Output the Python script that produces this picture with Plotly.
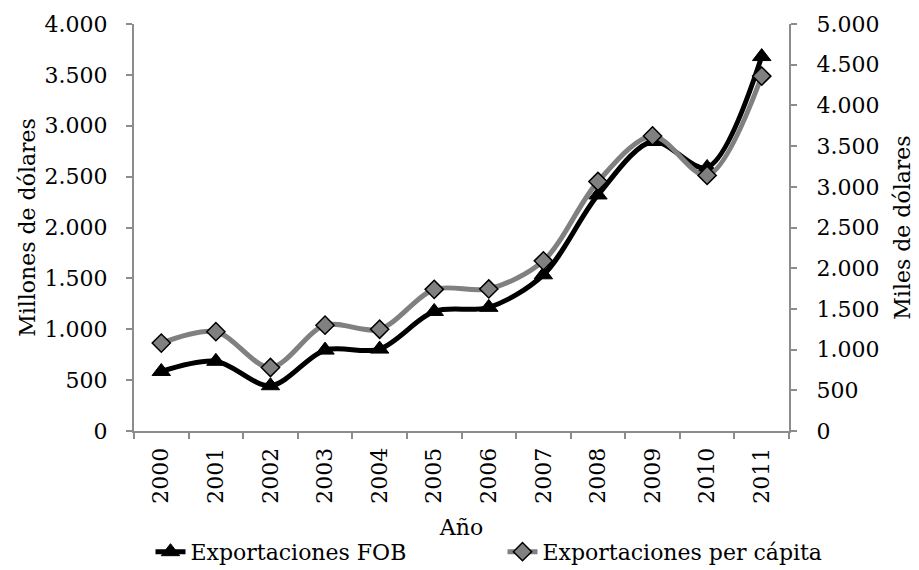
import plotly.graph_objects as go

years = ["2000", "2001", "2002", "2003", "2004", "2005", "2006", "2007", "2008", "2009", "2010", "2011"]
fob = [585, 685, 445, 795, 805, 1175, 1215, 1535, 2320, 2845, 2590, 3680]
per_capita = [1080, 1220, 780, 1300, 1250, 1740, 1745, 2090, 3065, 3625, 3140, 4360]

font = "DejaVu Serif"
fs = 22
axis_color = "#8c8c8c"

fig = go.Figure()
fig.add_trace(go.Scatter(
    x=years, y=fob, name="Exportaciones FOB", mode="lines+markers",
    line=dict(color="black", width=5, shape="spline", smoothing=0.9),
    marker=dict(symbol="triangle-up", size=16, color="black", line=dict(color="black", width=1)),
))
fig.add_trace(go.Scatter(
    x=years, y=per_capita, name="Exportaciones per cápita", mode="lines+markers", yaxis="y2",
    line=dict(color="#808080", width=5, shape="spline", smoothing=0.9),
    marker=dict(symbol="diamond", size=14, color="#808080", line=dict(color="black", width=1.5)),
))

# the page body adds an 8px offset, so the figure is 911x562 and left/top margins shrink by 8
fig.update_layout(
    width=911, height=562,
    margin=dict(l=126, r=130, t=16, b=139, autoexpand=False),
    paper_bgcolor="white", plot_bgcolor="white",
    separators=",.",
    font=dict(family=font, size=fs, color="black"),
    showlegend=True,
    legend=dict(orientation="h", x=1.1, xanchor="right",
                y=-0.297, yanchor="middle",
                font=dict(family=font, size=fs), entrywidth=307, tracegroupgap=0),
    xaxis=dict(
        type="category", range=[-0.5, 11.5], tickson="boundaries", automargin=False,
        showline=True, linecolor=axis_color, linewidth=2,
        ticks="outside", ticklen=6, tickcolor=axis_color, tickwidth=2,
        tickangle=-90, tickfont=dict(family=font, size=fs), ticklabelstandoff=6,
        showgrid=False, zeroline=False,
        title=dict(text="Año", font=dict(family=font, size=fs), standoff=17),
    ),
    yaxis=dict(
        range=[0, 4000], dtick=500, tickformat=",d", automargin=False,
        showline=True, linecolor=axis_color, linewidth=2,
        ticks="outside", ticklen=6, tickcolor=axis_color, tickwidth=2,
        showgrid=False, zeroline=False, ticklabelstandoff=14,
        tickfont=dict(family=font, size=fs),
        title=dict(text="Millones de dólares", font=dict(family=font, size=fs), standoff=3),
    ),
    yaxis2=dict(
        range=[0, 5000], dtick=500, tickformat=",d", overlaying="y", side="right", automargin=False,
        showline=True, linecolor=axis_color, linewidth=2,
        ticks="outside", ticklen=6, tickcolor=axis_color, tickwidth=2,
        showgrid=False, zeroline=False, ticklabelstandoff=15,
        tickfont=dict(family=font, size=fs),
        title=dict(text="Miles de dólares", font=dict(family=font, size=fs), standoff=16),
    ),
)

fig.write_html("out.html")
